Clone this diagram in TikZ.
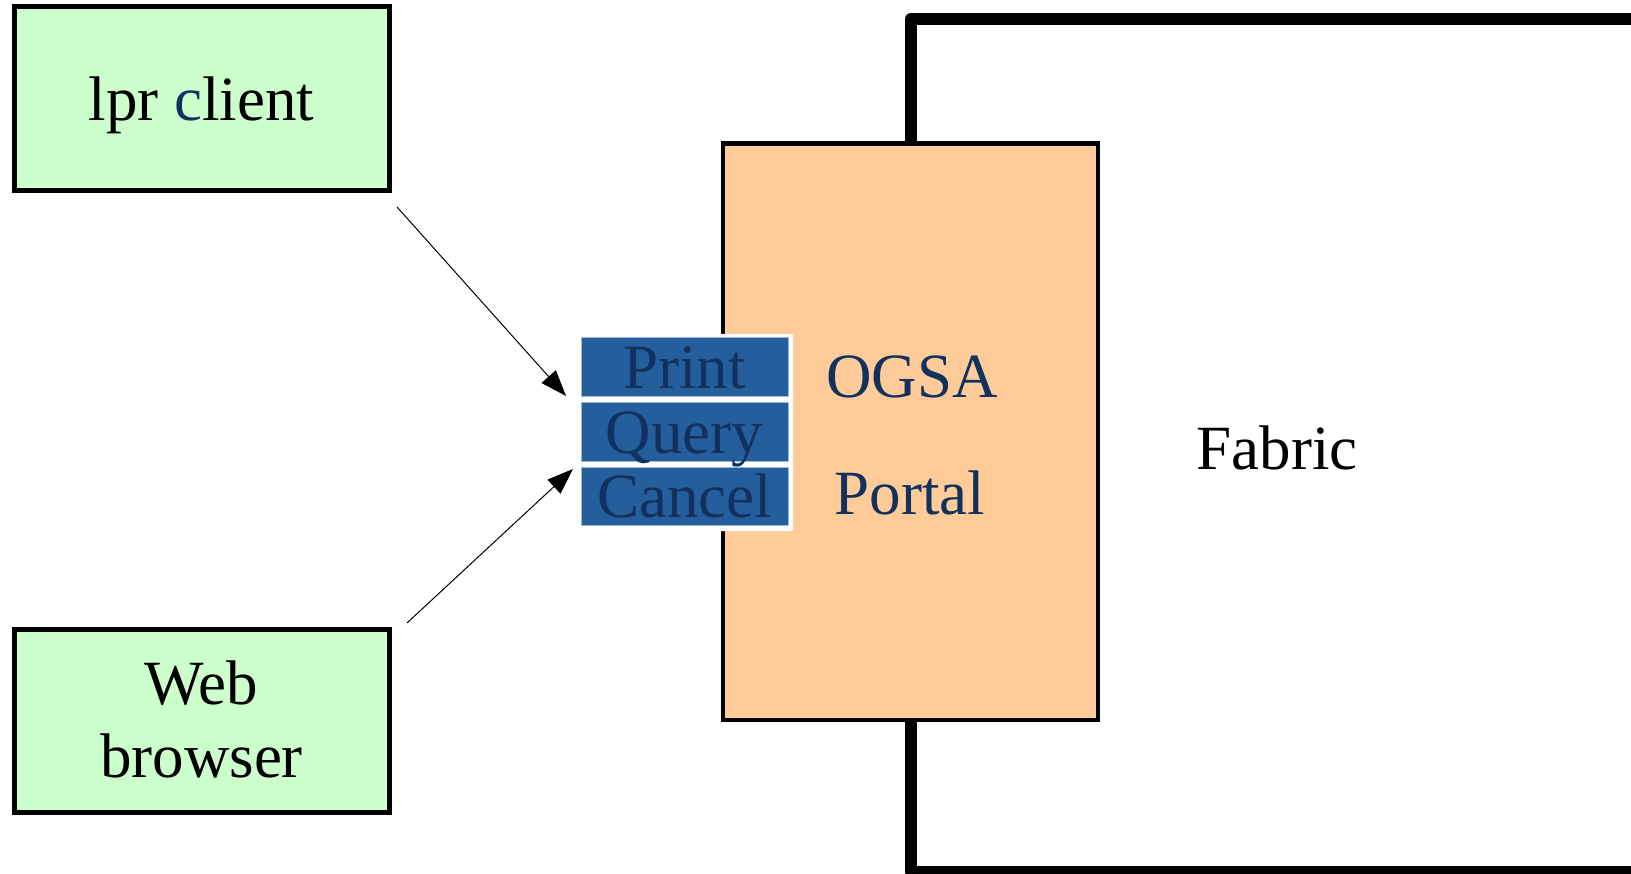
\documentclass[tikz,border=0pt]{standalone}
\usepackage{fontspec}
\setmainfont{Liberation Serif}
\usetikzlibrary{arrows.meta}
\definecolor{clientgreen}{HTML}{CCFFCC}
\definecolor{portalpeach}{HTML}{FFCC99}
\definecolor{btnblue}{HTML}{245E9C}
\definecolor{btnedge}{HTML}{9DB8DA}
\definecolor{navy}{HTML}{13315E}
\begin{document}
\begin{tikzpicture}[x=1pt,y=-1pt,
  bigfont/.style={font=\fontsize{63}{73}\selectfont},
  clientbox/.style={draw=black, line width=5pt, fill=clientgreen,
    minimum width=375pt, minimum height=184pt, inner sep=0pt, bigfont},
  portalbox/.style={draw=black, line width=4.5pt, fill=portalpeach,
    minimum width=375pt, minimum height=576pt, inner sep=0pt},
  btnback/.style={fill=white, rounded corners=2pt, minimum width=216pt,
    minimum height=197pt, inner sep=0pt},
  btnbox/.style={fill=btnblue, draw=btnedge, line width=1pt,
    minimum width=207pt, minimum height=59pt, inner sep=0pt,
    text height=42pt, text depth=0pt, bigfont, text=navy},
  lbl/.style={anchor=base, inner sep=0pt, bigfont},
  flow/.style={line width=1pt, -{Triangle[length=26pt,width=19pt]}}
]
\useasboundingbox (0,0) rectangle (1631,874);
\clip (0,0) rectangle (1631,874);
% Fabric frame
\draw[line width=12pt, line join=round] (911,19) rectangle (1700,872);
\node[lbl] (fabric) at (1277,469) {Fabric};
% Portal
\node[portalbox] (portal) at (910.5,431.75) {};
\node[lbl, text=navy] (ogsa) at (912,398) {OGSA};
\node[lbl, text=navy] (portaltxt) at (910,514) {Portal};
% Buttons
\node[btnback] (btns) at (685,432.5) {};
\node[btnbox] (print) at (684.5,367.5) {Print};
\node[btnbox] (query) at (684.5,432.5) {Query};
\node[btnbox, minimum height=58pt] (cancel) at (684.5,496) {Cancel};
% Clients
\node[clientbox, text height=44pt, text depth=0pt] (lpr) at (201.5,99) {lpr \textcolor{navy}{c}lient};
\node[clientbox, minimum height=183pt] (web) at (201.5,720.5) {};
\node[lbl, align=center] (webtxt) at (201.5,777) {Web\\browser};
% Arrows
\coordinate (a1s) at (397,207);
\coordinate (a1e) at (566,396);
\coordinate (a2s) at (407,623);
\coordinate (a2e) at (573,469);
\draw[flow] (a1s) -- (a1e);
\draw[flow] (a2s) -- (a2e);
\end{tikzpicture}
\end{document}
